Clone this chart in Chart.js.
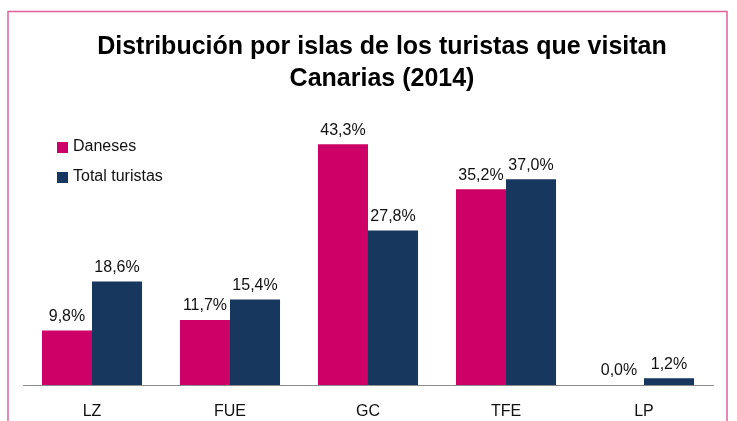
<!DOCTYPE html>
<html>
<head>
<meta charset="utf-8">
<script src="https://cdn.jsdelivr.net/npm/chart.js@4"></script>
<style>
  body { margin: 0; background: #fff; }
  canvas { display: block; }
</style>
</head>
<body>
<canvas id="chart" width="737" height="421"></canvas>
<script>
// Datos del gráfico
const islas = ["LZ", "FUE", "GC", "TFE", "LP"];
const daneses = [9.8, 11.7, 43.3, 35.2, 0.0];
const totalTuristas = [18.6, 15.4, 27.8, 37.0, 1.2];
const seriesNames = ["Daneses", "Total turistas"];
const titleLines = ["Distribución por islas de los turistas que visitan", "Canarias (2014)"];

const PINK = "#CC0066";
const NAVY = "#17375E";
const FONT = "'Liberation Sans Narrow', 'Liberation Sans', sans-serif";

// Formato de etiqueta con coma decimal
function fmt(v) {
    return v.toFixed(1).replace(".", ",") + "%";
}

// Marco rosa alrededor del gráfico + título algo desplazado a la derecha
const framePlugin = {
    id: "frame",
    afterLayout(chart) {
        if (chart.titleBlock) {
            chart.titleBlock.left += 14;
            chart.titleBlock.right += 14;
        }
    },
    beforeDraw(chart) {
        const ctx = chart.ctx;
        ctx.save();
        ctx.fillStyle = "#fff";
        ctx.fillRect(0, 0, chart.width, chart.height);
        ctx.strokeStyle = "#E0609C";
        ctx.lineWidth = 1.5;
        ctx.strokeRect(8, 11.5, 719, 500);
        ctx.restore();
    }
};

// Etiquetas de valores encima de las barras
const valueLabels = {
    id: "valueLabels",
    afterDatasetsDraw(chart) {
        const ctx = chart.ctx;
        ctx.save();
        ctx.font = "16px " + FONT;
        ctx.fillStyle = "#111";
        ctx.textAlign = "center";
        ctx.textBaseline = "bottom";
        chart.data.datasets.forEach((ds, i) => {
            chart.getDatasetMeta(i).data.forEach((bar, j) => {
                ctx.fillText(fmt(ds.data[j]), bar.x, bar.y - 6);
            });
        });
        ctx.restore();
    }
};

// Leyenda dentro del área del gráfico (arriba a la izquierda)
const insideLegend = {
    id: "insideLegend",
    afterDraw(chart) {
        const ctx = chart.ctx;
        ctx.save();
        ctx.font = "16px " + FONT;
        ctx.textBaseline = "middle";
        chart.data.datasets.forEach((ds, i) => {
            const y = 147 + i * 30;
            ctx.fillStyle = ds.backgroundColor;
            ctx.fillRect(57, y - 5, 11, 11);
            ctx.fillStyle = "#111";
            ctx.fillText(ds.label, 73, y);
        });
        ctx.restore();
    }
};

const ctx = document.getElementById("chart").getContext("2d");
new Chart(ctx, {
    type: "bar",
    data: {
        labels: islas,
        datasets: [
            { label: seriesNames[0], data: daneses, backgroundColor: PINK },
            { label: seriesNames[1], data: totalTuristas, backgroundColor: NAVY }
        ]
    },
    options: {
        responsive: false,
        animation: false,
        devicePixelRatio: 1,
        layout: {
            padding: { top: 0, left: 23, right: 24, bottom: 0 }
        },
        datasets: {
            bar: {
                categoryPercentage: 0.725,
                barPercentage: 1.0,
                borderWidth: 0
            }
        },
        scales: {
            x: {
                grid: { display: false, drawTicks: false },
                border: { display: true, color: "#8C8C8C", width: 1 },
                ticks: {
                    color: "#111",
                    padding: 17,
                    font: { family: FONT, size: 16 }
                },
                afterFit(scale) {
                    scale.height = 36;
                }
            },
            y: {
                display: false,
                min: 0,
                max: 50
            }
        },
        plugins: {
            legend: { display: false },
            tooltip: { enabled: false },
            title: {
                display: true,
                text: titleLines,
                color: "#000",
                font: { family: FONT, size: 25, weight: "bold", lineHeight: 1.28 },
                padding: { top: 31, bottom: 12 }
            }
        }
    },
    plugins: [framePlugin, valueLabels, insideLegend]
});
</script>
</body>
</html>
